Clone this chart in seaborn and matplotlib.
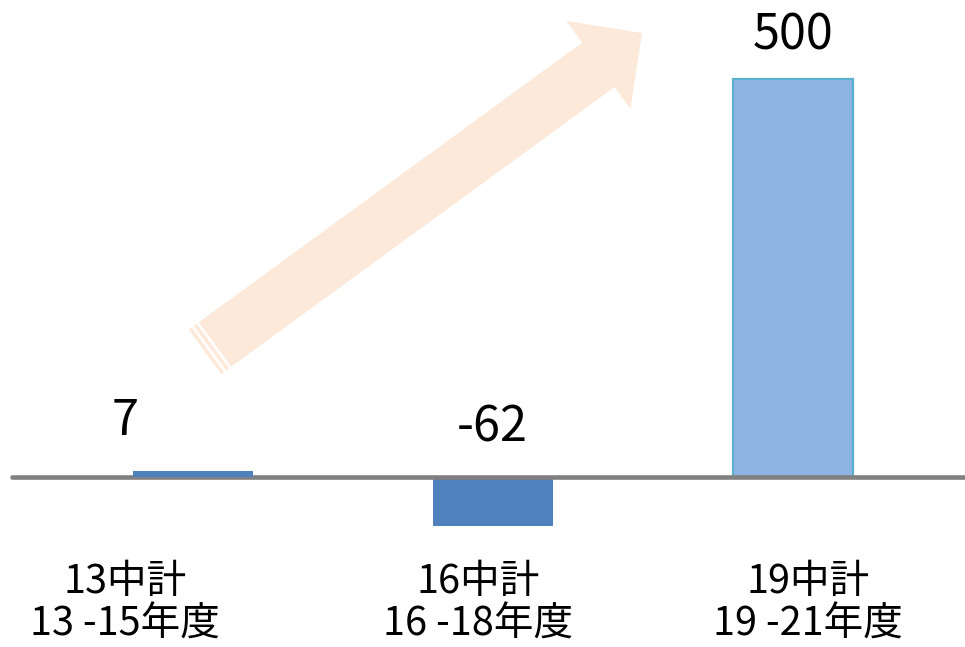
import matplotlib
matplotlib.use("Agg")
import matplotlib.pyplot as plt
import seaborn as sns
import numpy as np
import pandas as pd
from matplotlib.patches import Polygon

# ---- data ----
period_names = ["13中計", "16中計", "19中計"]
period_ranges = ["13 -15年度", "16 -18年度", "19 -21年度"]
values = [7, -62, 500]
value_labels = ["7", "-62", "500"]

# ---- styles / layout ----
bar_colors = ["#4F81BD", "#4F81BD", "#8EB4E3"]
W, H = 965, 647
sns.set_style("white")
plt.rcParams["font.family"] = ["Noto Sans CJK JP", "DejaVu Sans"]

fig = plt.figure(figsize=(W / 100, H / 100), dpi=100)
ax = fig.add_axes([0, 0, 1, 1])

df = pd.DataFrame({"period": period_names, "value": values})
sns.barplot(data=df, x="period", y="value", hue="period", palette=bar_colors,
            width=0.4, saturation=1, legend=False, ax=ax, zorder=2, linewidth=0)

patches = ax.patches
for p in patches:
    p.set_linewidth(0)
    p.set_edgecolor("none")
# third bar outline
patches[2].set_edgecolor("#5BB0CC")
patches[2].set_linewidth(1.6)
patches[0].set_zorder(4)

# axis scaling (pixel mapping)
px_per_unit_x = 300.25
x0_px = 192.85
base_px = 476.7
px_per_unit_y = 0.7948
ax.set_xlim(-x0_px / px_per_unit_x, (W - x0_px) / px_per_unit_x)
ax.set_ylim(-(H - base_px) / px_per_unit_y, base_px / px_per_unit_y)
ax.axis("off")

# baseline
ax.axhline(0, xmin=12 / W, xmax=1, color="#808080", lw=3.3, zorder=3)

def dx(px):
    return (px - x0_px) / px_per_unit_x

def dy(py):
    return (base_px - py) / px_per_unit_y

# value labels (positions in pixels of reference layout)
val_pos = [(125.5, 435), (492, 442), (793.5, 50)]
for lab, (px, py) in zip(value_labels, val_pos):
    ax.text(dx(px), dy(py), lab, ha="center", va="baseline", fontsize=35, color="black")

# category labels
cat_x = [125, 478, 808]
for name, rng, px in zip(period_names, period_ranges, cat_x):
    ax.text(dx(px), dy(593), name, ha="center", va="baseline", fontsize=28.5, color="black")
    ax.text(dx(px), dy(635.5), rng, ha="center", va="baseline", fontsize=28.5, color="black")

# decorative arrow
T = np.array([215.0, 344.5])
P = np.array([642.0, 33.0])
u = (P - T) / np.linalg.norm(P - T)
B = P - 54 * u
n = np.array([abs(u[1]), abs(u[0])])  # points down-right in image coords
w, h = 27.5, 54.4
pts = [T - w * n, B - w * n, B - h * n, P, B + h * n, B + w * n, T + w * n]
arrow_color = "#FDE9DA"

def to_fig(p):
    return (p[0] / W, 1 - p[1] / H)

fig.patches.append(Polygon([to_fig(p) for p in pts], closed=True, transform=fig.transFigure,
                           facecolor=arrow_color, edgecolor="none", zorder=1))
for a, b in [(2.7, 6.2), (8.9, 12.4)]:
    s0 = T - a * u
    s1 = T - b * u
    spts = [s0 - w * n, s0 + w * n, s1 + w * n, s1 - w * n]
    fig.patches.append(Polygon([to_fig(p) for p in spts], closed=True, transform=fig.transFigure,
                               facecolor=arrow_color, edgecolor="none", zorder=1))

fig.savefig("out.png", dpi=100)
